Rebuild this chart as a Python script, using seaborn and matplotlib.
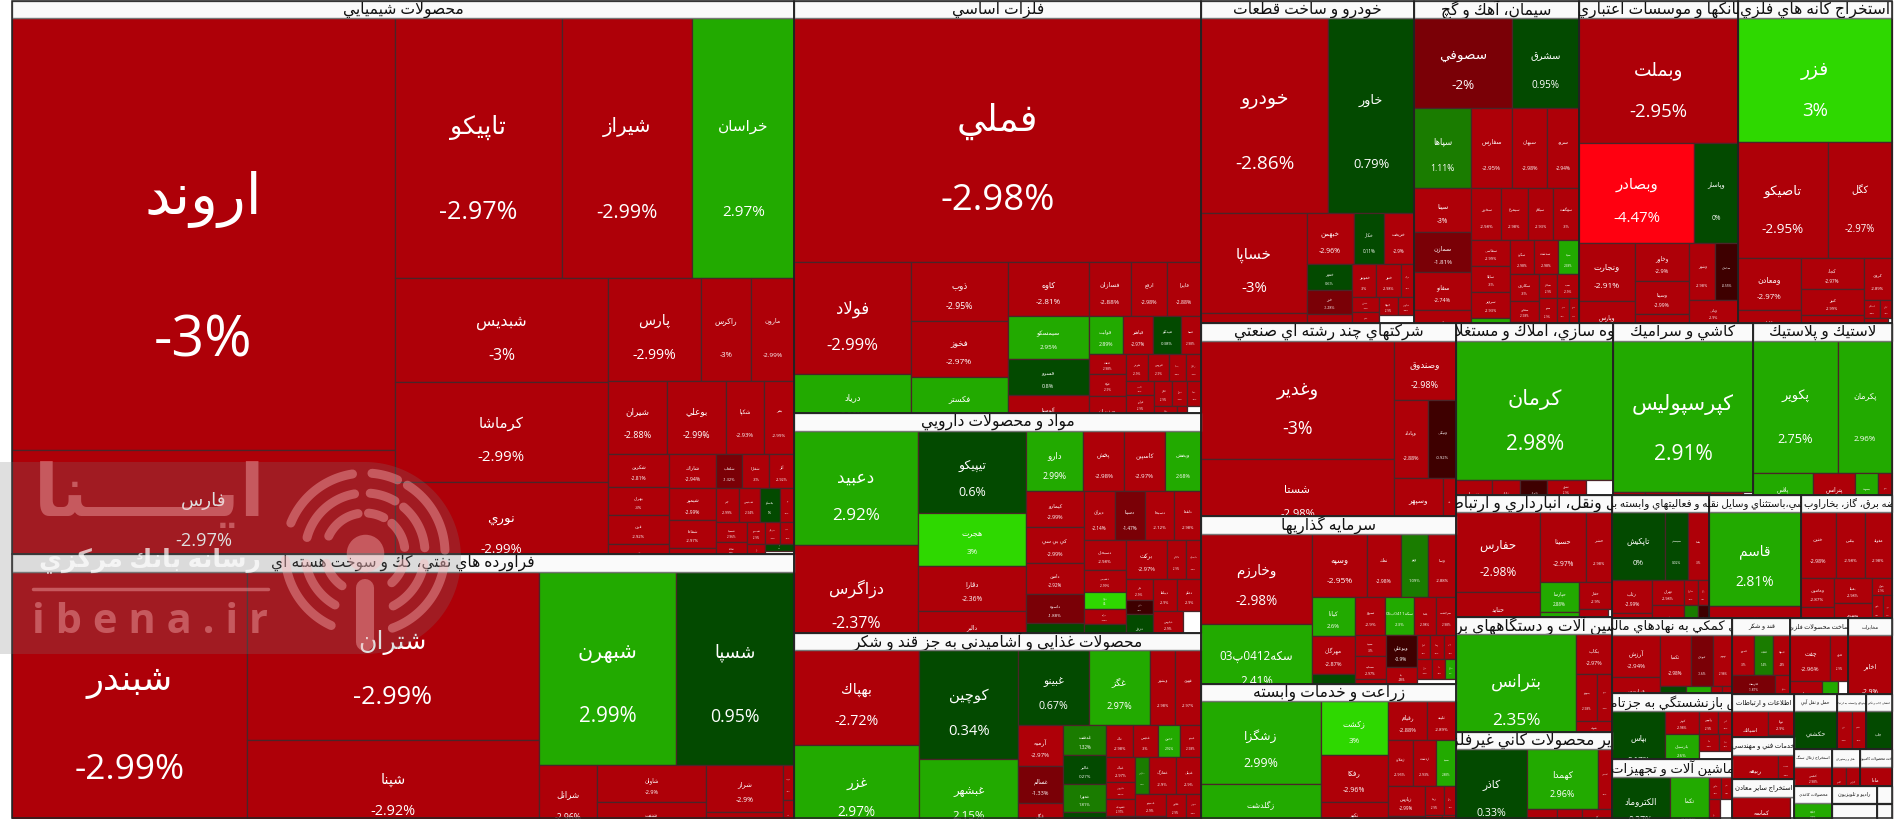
import re
import unicodedata

import numpy as np
import matplotlib
matplotlib.use("Agg")
import matplotlib.pyplot as plt
import seaborn as sns

# sector tiles: names, percent change, size (market value, arbitrary units)
chem_names = ["اروند", "فارس", "تاپيكو", "شيراز", "خراسان", "شبديس", "كرماشا", "نوري", "پارس", "راكرس", "مارون", "شيران", "بوعلي", "شكپا", "بمر", "شكربن", "بهران", "قرن", "آپ", "شاراك", "شيمپر", "شفاها", "تند", "شلعاب", "شفارا", "آلر", "جم", "شپديس", "پلاسكو", "مر", "شسينا", "شاملا", "شگل", "شبصير", "شرنگي", "سپ", "نار", "پتا", "ني", ""]
chem_pct = [-3, -2.97, -2.97, -2.99, 2.97, -3, -2.99, -2.99, -2.99, -3, -2.99, -2.88, -2.99, -2.93, -2.99, -2.81, -3, -2.92, -2.9, -2.94, -2.99, -2.97, -2.9, -1.32, -3, -2.92, -2.99, -2.94, 0, -2.9, -2.96, -2.9, -2.9, -2.9, -2.9, -2.9, -2.9, -2.9, 0.5, None]
chem_size = [164.6, 46.6, 43.1, 33.8, 26.3, 22.3, 21.2, 19.0, 9.6, 5.2, 4.4, 4.3, 4.25, 2.8, 2.16, 2.0, 1.75, 1.75, 1.68, 1.6, 1.5, 1.3, 1.08, .92, .92, .86, .77, .7, .67, .48, .62, .52, .4, .4, .32, .3, .26, .26, .2, .6]

petro_names = ["شبندر", "شتران", "شپنا", "شبهرن", "شسپا", "شرانل", "شاوان", "شنفت", "شراز", "شپاس", "شوينده", "نفت"]
petro_pct = [-2.99, -2.99, -2.92, 2.99, 0.95, -2.96, -2.9, -2.88, -2.9, -2.98, -2.9, -2.9]
petro_size = [61.8, 49.0, 27.9, 26.5, 22.7, 4.07, 4.0, 3.67, 3.6, 1.8, .4, .4]

metal_names = ["فملي", "فولاد", "درياد", "ذوب", "فخوز", "فكستر", "كاوه", "سيمسكو", "فسرو", "آلومينا", "فسازان", "ارفع", "فايرا", "فولبت", "فباهنر", "ميدكو", "فسبا", "فنفت", "فوكا", "ورزيران", "هرمز", "فروس", "بمپنا", "زنگان", "كاسپ", "فرآور", "فلوله", "فجر", "فجام", "فسپا", "فنوال", "ميرال", "سرو", ""]
metal_pct = [-2.98, -2.99, 2.96, -2.95, -2.97, 2.91, -2.81, 2.95, 0.8, -2.9, -2.88, -2.98, -2.88, 2.89, -2.97, 0.38, -2.98, -2.98, -2.9, -2.9, -2.9, -2.9, -2.9, -2.9, -2.9, -2.9, -2.9, -2.9, -2.9, -2.9, -2.9, -2.9, -2.9, None]
metal_size = [98.9, 12.9, 6.6, 5.66, 5.4, 5.2, 4.3, 3.44, 2.96, 2.84, 2.25, 1.9, 1.8, 1.3, 1.15, 1.07, .78, .76, .79, 1.3, .6, .57, .45, .42, .39, .5, .48, .45, .36, .34, .3, .28, .24, .35]

drug_names = ["دعبيد", "دزاگرس", "تيپيكو", "هجرت", "دقارا", "دالبر", "دارو", "پخش", "كاسپين", "وپخش", "كيمارو", "كي بي سي", "دامين", "داسوه", "دتماد", "ديران", "دسينا", "دسبحا", "دلقما", "دسبحان", "دشيمي", "دفرا", "دتوليد", "دفارا", "بركت", "دجابر", "دكپسول", "دلر", "دكوثر", "دروز", "ديپلما", "دعلم", "دپارس", "دتهران", ""]
drug_pct = [2.92, -2.37, 0.6, 3, -2.36, -2.9, 2.99, -2.98, -2.97, 2.68, -2.99, -2.99, -2.92, -1.88, 0.5, -2.14, -1.47, -2.12, -2.98, -2.98, -2.99, 3, -2.99, 0.79, -2.97, -2.9, -2.9, -2.9, -0.5, 0.4, -2.9, -2.9, -2.9, -2.9, None]
drug_size = [14.25, 13.2, 8.94, 5.78, 4.9, 4.3, 3.5, 2.5, 2.5, 2.2, 2.07, 2.1, 1.77, 1.7, 1.6, 1.53, 1.53, 1.43, 1.33, 1.24, .93, .71, .65, 1.12, 1.6, .7, .6, .6, .37, 1.0, .8, .8, .7, .5, .7]

food_names = ["بهپاك", "غزر", "كوچين", "غبشهر", "غبينو", "غگز", "وبشهر", "قهوي", "آرميه", "غسالم", "غگل", "غدشت", "غالبر", "غمهرا", "غشان", "تاك", "غديس", "خاتون", "غپينو", "غپاك", "غكورش", "غشهداب", "غدام", "غفارس", "غمارگ", "غنيلي", "غصينو", "غسهر", "غچين", "غنوش", ""]
food_pct = [-2.72, 2.97, 0.34, 2.15, 0.67, 2.97, -2.98, -2.97, -2.97, -1.33, -2.9, 1.32, 0.27, 1.81, 0.5, -2.98, -3, 2.92, -2.98, -2.97, -2.97, -2.97, -2.97, 1.5, -2.9, -2.9, -2.9, -2.9, -2.9, -2.9, None]
food_size = [11.75, 11.3, 10.6, 7.5, 5.25, 4.5, 1.9, 1.9, 1.85, 1.67, 1.46, 1.29, 1.25, 1.2, 1.0, .86, .8, .74, .67, .7, .47, .5, .55, .5, 1.0, .9, .7, .6, .5, .4, .55]

auto_names = ["خودرو", "خاور", "خساپا", "خزاميا", "خبهمن", "خكار", "خريخت", "خمهر", "خزر", "خلنت", "خموتور", "ختور", "خرينگ", "خشرق", "خفنر", "خاذين", "ختوقا", "خپارس", ""]
auto_pct = [-2.86, 0.79, -3, -2.9, -2.96, 0.11, -2.9, 0.6, -1.28, -2.9, -3, -2.98, -2.9, -2.9, -2.9, -2.9, -2.9, -2.9, None]
auto_size = [24.8, 16.8, 10.6, 2.9, 2.4, 1.55, 1.55, 1.2, 1.1, 1.2, .8, .8, .45, .4, .4, .35, .35, .3, .9]

cement_names = ["سصوفي", "سشرق", "سپاها", "سفارس", "سبهان", "سرود", "سينا", "سمازن", "سفانو", "سارود", "سخزر", "سيمرغ", "سيلام", "سهگمت", "سفاسي", "سايلا", "سرويز", "سغرب", "سكرد", "سدشت", "سيتا", "سكارون", "سقاين", "ساروم", "سباقر", "سپ", "سنير", "سدور", "سنوين", ""]
cement_pct = [-2, 0.95, 1.11, -2.95, -2.98, -2.94, -3, -1.81, -2.74, -2.9, -2.98, -2.98, -2.93, -3, -2.99, -3, -2.93, 2.5, -2.98, -2.98, 2.68, -3, -2.98, 2.9, -2.9, -2.9, -2.9, -2.9, -2.9, None]
cement_size = [8.7, 5.96, 4.5, 3.24, 2.8, 2.5, 2.46, 2.3, 2.1, 1.76, 1.5, 1.35, 1.3, 1.3, 1.0, 1.0, 1.0, .87, .82, .82, .73, .74, .6, .54, .42, .5, .45, .3, .26, .7]

bank_names = ["وبملت", "وبصادر", "وپاسار", "ونجارت", "وپارس", "وخاور", "وسينا", "وپست", "وشهر", "سامان", "وباني", "وكار"]
bank_pct = [-2.95, -4.47, 0, -2.91, -2.98, -2.9, -2.99, -2.93, -2.98, -0.55, -2.9, -2.9]
bank_size = [19.7, 11.4, 4.36, 3.2, 2.2, 2.06, 1.8, 1.46, 1.46, 1.3, 1.16, .8]

mine_names = ["فزر", "تاصيكو", "كگل", "ومعادن", "كاما", "كچاد", "كنور", "كگهر", "كروي", "كمنگنز", "كبافق", "كپارس", "كخاك", ""]
mine_pct = [3, -2.95, -2.97, -2.97, -2.9, -2.97, -2.99, -2.9, -2.89, -2.9, -2.9, -2.9, -2.9, None]
mine_size = [19.1, 10.4, 7.4, 3.3, 1.9, 1.95, 1.64, 1.6, 1.18, .3, .22, .3, .25, .1]

multi_names = ["وغدير", "شستا", "وصندوق", "وپاداد", "ونيكي", "وسپهر", "بانك"]
multi_pct = [-3, -2.98, -2.98, -2.88, -0.92, -2.99, -2.9]
multi_size = [22.7, 14.3, 3.7, 2.7, 2.16, 2.75, .72]

invest_names = ["وخارزم", "سكه0412پ03", "وسپه", "نمك", "ونو", "وسا", "كيانا", "مهرگان", "ايند", "سرو", "سكه0411پ05", "پاشا", "سرچشمه", "سپيد", "سمايه", "وثوق", "وبوعلي", "پايا", "سبزوا", "ثامان", "وصنا", "ويژن", "سان", "ستا", "مداران", ""]
invest_pct = [-2.98, 2.41, -2.95, -2.98, 1.09, -2.88, 2.6, -2.87, 0.71, -2.9, 2.3, -2.98, -2.98, -3, -2.97, -2.98, -0.9, -2.98, -2.9, -2.9, -2.9, -2.9, -2.9, -2.9, 2.5, None]
invest_size = [9.6, 8.3, 3.4, 2.04, 1.68, 1.74, 1.63, 1.58, 1.17, 1.08, 1.05, .8, .73, .63, .67, .64, 1.0, .52, .52, .3, .33, .3, .28, .24, .2, .86]

agri_names = ["زشگزا", "زگلدشت", "زكشت", "رفكا", "نكهر", "رقيام", "ثليبه", "زملارد", "زدشت", "سپيد", "زپارس", "زفكا", "زبينا", "زقيام", "زشريف", "دامين"]
agri_pct = [2.99, 2.96, 3, -2.96, -2.9, -2.88, -2.89, -2.95, -2.93, 2.88, -2.99, -2.9, -2.9, -2.9, -2.9, -2.9]
agri_size = [9.76, 6.1, 3.55, 3.15, 2.2, 1.5, 1.1, 1.15, 1.1, .92, 1.1, .7, .55, .35, .35, .3]

build_names = ["كرمان", "ثنوسا", "ثاباد", "ثامان", "ثشرق", "ثغرب", ""]
build_pct = [2.98, -2.9, -2.9, -0.5, -2.9, -2.9, None]
build_size = [21.4, 1.14, .91, .88, .65, .58, .88]

ceram_names = ["كپرسپوليس", "كسرا", "كسعدي", "كمرجان", "كلوند", ""]
ceram_pct = [2.91, -2.9, -2.9, -2.9, -2.9, None]
ceram_size = [21.0, .65, .65, .65, .65, .2]

plast_names = ["پكوير", "پكرمان", "پلاس", "پترانس", "پسهند", "پدرو"]
plast_pct = [2.75, 2.96, 2.9, -2.98, 2.88, -2.9]
plast_size = [11.3, 7.1, 2.4, 1.66, .9, .55]

trans_names = ["حفارس", "حتايد", "حسينا", "حشير", "حپارسا", "حآسا", "حفار", "حتوكا", ""]
trans_pct = [-2.98, -2.9, -2.97, -2.98, 2.88, 2.5, -2.9, -2.9, None]
trans_size = [6.7, 3.57, 3.2, 1.8, 1.17, .88, .9, .75, .1]

elec_names = ["بترانس", "بكاب", "بموتو", "بنيرو", "بشهاب", "بالاس"]
elec_pct = [2.35, -2.97, -2.98, -2.9, -2.9, -2.9]
elec_size = [13.7, 1.4, .97, .7, .6, .43]

glass_names = ["كاذر", "كهمدا", "كسعدي", "كفرا", "كساوه", "كلر", "كرازي"]
glass_pct = [0.33, 2.96, -2.9, -2.9, -2.9, -2.9, -2.9]
glass_size = [6.0, 4.2, .83, .78, .65, .5, .26]

comp_names = ["تاپكيش", "سيستم", "پاسا", "رتاپ", "مفاخر", "تهران", "فن", "مداران", "رايان", "افق", "خريد"]
comp_pct = [0, 0.02, -3, -2.99, -2.9, -2.98, -2.98, -2.9, -2.9, 1.5, -0.4]
comp_size = [3.6, 1.56, 1.43, 1.3, .9, .8, .95, .35, .27, .42, .33]

retail_names = ["قاسم", "اتكي"]
retail_pct = [2.81, -2.9]
retail_size = [8.6, 2.7]

power_names = ["خنين", "بپاس", "مغولد", "وهامون", "سهمو", "بمپنا", "بجهرم", "بتوان", "بكهنوج", "بخاور", ""]
power_pct = [-2.98, -2.98, -2.98, -2.87, -2.9, -2.98, -2.98, -2.9, -2.9, -2.9, None]
power_size = [2.24, 1.86, 1.73, .96, .9, .92, 1.2, .35, .3, .25, .25]

fin_names = ["آرزش", "فرابورس", "تكمبا", "لبوتان", "نهويي", "تاليما", "نوين", "ساتا", "سامه"]
fin_pct = [-2.94, -2.9, -2.98, -1.6, -2.98, 0.4, 2.9, -2.9, -2.9]
fin_size = [1.93, 1.6, 1.55, 1.15, .95, .62, .62, .25, .25]

ins_names = ["بپاس", "كوثر", "پارسيان", "ملت", "وآتوس", "البرز", "دانا", "آسيا", ""]
ins_pct = [0.17, -2.98, 2.6, -2.9, -2.9, -2.9, -2.9, -2.9, None]
ins_size = [3.2, .7, .9, .42, .42, .31, .3, .2, .8]

mach_names = ["الكتروماد", "تكما", "تفارس", "تپمپي", "تايرا", ""]
mach_pct = [0.27, 2.97, -2.9, -2.9, -2.9, None]
mach_size = [3.4, 2.3, .28, .25, .4, .45]

sugar_names = ["قمرو", "قثابت", "قصفها", "قلرست", "قنيشا", "شكر"]
sugar_pct = [-3, 1.4, -2.9, -1.81, 1.2, -2.9]
sugar_size = [.86, .74, .66, .9, .65, .55]

steel_names = ["چفت", "فلزي", "فنوا", "شفن", ""]
steel_pct = [-2.96, -2.9, -2.9, 2.7, None]
steel_size = [1.8, .81, .96, .48, .3]

tel_names = ["اخابر"]
tel_pct = [-2.9]
tel_size = [2.55]

info_names = ["اسياتك", "نوتا", "تكنيك"]
info_pct = [-2.9, -2.9, -2.9]
info_size = [.9, .38, .3]

eng_names = ["ربيعه", "خدمت", ""]
eng_pct = [-2.98, -2.9, None]
eng_size = [1.28, .3, .15]

misc_names = ["كماسه", ""]
misc_pct = [-2.9, None]
misc_size = [2.0, .15]

water_names = ["حكشتي"]
water_pct = [0.5]
water_size = [1.6]

post_names = ["ثقين", "ثقشم", "پست", ""]
post_pct = [-2.9, -2.9, -2.9, None]
post_size = [.43, .41, .2, .15]

press_names = ["چاپ"]
press_pct = [0.6]
press_size = [.99]

coal_names = ["كطبس", "كزغال"]
coal_pct = [-2.98, -2.9]
coal_size = [.55, .45]

paper_names = ["چكاپا", "چفيبر"]
paper_pct = [2.9, 2.8]
paper_size = [.55, .35]

hotel_names = ["گلدير", "گپارس"]
hotel_pct = [-2.9, -2.9]
hotel_size = [.25, .25]

pc_names = ["مادا", ""]
pc_pct = [-2.9, None]
pc_size = [.6, .05]

dev_names = ["بهير", "بسوي"]
dev_pct = [2.9, -2.9]
dev_size = [.22, .17]

empty_names = [""]
empty_pct = [None]
empty_size = [1]

sector_titles = [
    "محصولات شيميايي", "فراورده هاي نفتي، كك و سوخت هسته اي", "فلزات اساسي",
    "مواد و محصولات دارويي", "محصولات غذايي و آشاميدني به جز قند و شكر", "خودرو و ساخت قطعات",
    "سيمان، آهك و گچ", "بانكها و موسسات اعتباري", "استخراج كانه هاي فلزي",
    "شركتهاي چند رشته اي صنعتي", "سرمايه گذاريها", "زراعت و خدمات وابسته",
    "انبوه سازي، املاك و مستغلات", "كاشي و سراميك", "لاستيك و پلاستيك",
    "حمل ونقل، انبارداري و ارتباطات", "ماشين آلات و دستگاههاي برقي", "ساير محصولات كاني غيرفلزي",
    "رايانه و فعاليتهاي وابسته به آن", "خرده فروشي،باستثناي وسايل نقليه موتوري", "عرضه برق، گاز، بخاراوب گرم",
    "فعاليتهاي كمكي به نهادهاي مالي واسط", "بيمه وصندوق بازنشستگي به جزتامين اجتماعي", "ماشين آلات و تجهيزات",
    "قند و شكر", "ساخت محصولات فلزي", "مخابرات",
    "اطلاعات و ارتباطات", "خدمات فني و مهندسي", "استخراج ساير معادن",
    "حمل و نقل آبي", "فعاليتهاي وابسته به ارتباطات", "انتشار، چاپ و تكثير",
    "استخراج زغال سنگ", "محصولات كاغذي", "هتل و رستوران",
    "ساخت محصولات كامپيوتري", "راديو و تلويزيون", "", "", "",
]
sector_sizes = [
    432.4, 206.4, 167.7, 89.5, 75.3, 68.6, 53.1, 51.2, 49.6, 49.2, 42.8, 34.2,
    26.9, 24.0, 23.9, 19.0, 17.9, 13.4, 11.9, 11.3, 11.2, 9.1, 7.9, 7.1,
    4.4, 4.4, 3.3, 2.7, 2.6, 2.4, 2.35, 1.62, 1.46, 1.37, 1.22, 1.0,
    1.18, .83, .64, .28, .2,
]
sector_names = [chem_names, petro_names, metal_names, drug_names, food_names, auto_names, cement_names, bank_names, mine_names, multi_names, invest_names, agri_names, build_names, ceram_names, plast_names, trans_names, elec_names, glass_names, comp_names, retail_names, power_names, fin_names, ins_names, mach_names, sugar_names, steel_names, tel_names, info_names, eng_names, misc_names, water_names, post_names, press_names, coal_names, paper_names, hotel_names, pc_names, dev_names, empty_names, empty_names, empty_names]
sector_pcts = [chem_pct, petro_pct, metal_pct, drug_pct, food_pct, auto_pct, cement_pct, bank_pct, mine_pct, multi_pct, invest_pct, agri_pct, build_pct, ceram_pct, plast_pct, trans_pct, elec_pct, glass_pct, comp_pct, retail_pct, power_pct, fin_pct, ins_pct, mach_pct, sugar_pct, steel_pct, tel_pct, info_pct, eng_pct, misc_pct, water_pct, post_pct, press_pct, coal_pct, paper_pct, hotel_pct, pc_pct, dev_pct, empty_pct, empty_pct, empty_pct]
sector_tiles = [chem_size, petro_size, metal_size, drug_size, food_size, auto_size, cement_size, bank_size, mine_size, multi_size, invest_size, agri_size, build_size, ceram_size, plast_size, trans_size, elec_size, glass_size, comp_size, retail_size, power_size, fin_size, ins_size, mach_size, sugar_size, steel_size, tel_size, info_size, eng_size, misc_size, water_size, post_size, press_size, coal_size, paper_size, hotel_size, pc_size, dev_size, empty_size, empty_size, empty_size]

# percent bin edges and their colours
pct_edges = [-4, -2.05, -1, 0, 1, 2, 3]
pct_colors = sns.color_palette(["#ff0010", "#ae0008", "#7a0006", "#3e0000", "#034a00", "#1a7c00", "#22aa00", "#2ed800"])

RIGHT_JOIN = set("اآأإدذرزژوؤة")
KASHIDA = "ـ"


def is_letter(ch):
    return "\u0621" < ch <= "\u06d2"


def form_of(ch, form):
    if ch == KASHIDA:
        return ch
    return unicodedata.lookup(unicodedata.name(ch) + " " + form + " FORM")


def rtl(text):
    # matplotlib has no arabic shaping, so pick the joined glyphs by hand
    text = text.replace("لا", "\ufefb").replace("لآ", "\ufef5")
    out = []
    for i, ch in enumerate(text):
        prev_ch = text[i - 1] if i else " "
        next_ch = text[i + 1] if i + 1 < len(text) else " "
        joins_prev = is_letter(prev_ch) and prev_ch not in RIGHT_JOIN
        joins_next = is_letter(next_ch) or next_ch in "\ufefb\ufef5"
        if ch in "\ufefb\ufef5":
            out.append(chr(ord(ch) + 1) if joins_prev else ch)
        elif not is_letter(ch):
            out.append(ch)
        elif ch in RIGHT_JOIN:
            out.append(form_of(ch, "FINAL" if joins_prev else "ISOLATED"))
        elif joins_prev and joins_next:
            out.append(form_of(ch, "MEDIAL"))
        elif joins_prev:
            out.append(form_of(ch, "FINAL"))
        elif joins_next:
            out.append(form_of(ch, "INITIAL"))
        else:
            out.append(form_of(ch, "ISOLATED"))
    tokens = re.findall(r"[0-9A-Za-z.%]+|.", "".join(out))
    return "".join(reversed(tokens))


def squarify(values, x0, y0, x1, y1, ratio=1.618):
    # same greedy rows as d3.treemapSquarify
    rects = []
    left = float(sum(values))
    i = 0
    n = len(values)
    while i < n:
        dx, dy = x1 - x0, y1 - y0
        total = values[i]
        lo = hi = values[i]
        alpha = max(dy / dx, dx / dy) / (left * ratio)
        beta = total * total * alpha
        best = max(hi / beta, beta / lo)
        j = i + 1
        while j < n:
            v = values[j]
            total2 = total + v
            lo2, hi2 = min(lo, v), max(hi, v)
            beta = total2 * total2 * alpha
            r = max(hi2 / beta, beta / lo2)
            if r > best:
                break
            total, lo, hi, best = total2, lo2, hi2, r
            j += 1
        if dx < dy:
            y_end = y0 + dy * total / left
            x = x0
            for v in values[i:j]:
                rects.append((x, y0, dx * v / total, y_end - y0))
                x += dx * v / total
            y0 = y_end
        else:
            x_end = x0 + dx * total / left
            y = y0
            for v in values[i:j]:
                rects.append((x0, y, x_end - x0, dy * v / total))
                y += dy * v / total
            x0 = x_end
        left -= total
        i = j
    return rects


def tile_color(p):
    if p is None:
        return "#ffffff"
    return pct_colors[int(np.searchsorted(pct_edges, p, side="right"))]


sns.set_theme(style="white")
plt.rcParams["font.family"] = ["Open Sans", "DejaVu Sans"]

fig = plt.figure(figsize=(19.04, 8.22), dpi=100)
ax = fig.add_axes([0, 0, 1, 1])
ax.set_xlim(0, 1904)
ax.set_ylim(822, 0)
ax.set_axis_off()

HEADER = 17.5
PX = 72 / 100

sectors = squarify(sector_sizes, 12, 1, 1892, 818)
for s, (sx, sy, sw, sh) in enumerate(sectors):
    names, pcts, sizes = sector_names[s], sector_pcts[s], sector_tiles[s]
    # the tiles keep the full sector height and slide under the next header
    tiles = squarify(sizes, sx, sy + HEADER, sx + sw, sy + HEADER + sh)
    bars = ax.bar([t[0] for t in tiles], [t[3] for t in tiles], [t[2] for t in tiles],
                  bottom=[t[1] for t in tiles], align="edge",
                  color=[tile_color(p) for p in pcts], edgecolor="#4a2528", linewidth=0.9, zorder=2)
    for (x, y, w, h), bar, name, p in zip(tiles, bars, names, pcts):
        if p is None:
            continue
        f = 0.15 * min(w, h)
        cx = x + w / 2
        for label, ty in [(rtl(name), y + 0.42 * h), (f"{p:g}%", y + 0.75 * h)]:
            t = ax.text(cx, ty, label, color="white", fontsize=f * PX, ha="center", va="center",
                        zorder=3, clip_on=True)
            t.set_clip_path(bar)
    head = ax.bar(sx, HEADER, sw, bottom=sy, align="edge", color="#fafafa", edgecolor="#777777", linewidth=1, zorder=4)
    ax.bar(sx, sh, sw, bottom=sy, align="edge", fill=False, edgecolor="#222222", linewidth=1.1, zorder=5)
    title = ax.text(sx + sw / 2, sy + HEADER / 2, rtl(sector_titles[s]), color="#111111",
                    fontsize=min(15.5, sw * 0.11) * PX, ha="center", va="center", zorder=6, clip_on=True)
    title.set_clip_path(head[0])

# margin below the chart hides the overflowing last row
ax.axhspan(818.5, 822, color="white", lw=0, zorder=6)

# watermark
WM_GRAY = "#777777"
WM_LIGHT = "#ffb7ba"
theta = np.linspace(-np.pi / 2, np.pi / 2, 80)
ax.fill(np.r_[0, 365 + 96 * np.cos(theta), 0], np.r_[654, 558 - 96 * np.sin(theta), 462],
        color=WM_GRAY, alpha=0.235, lw=0, zorder=7)
ring_arcs = [
    (80, [(99, 158), (66, 85), (2, 58), (-70, -8), (185, 245)]),
    (60, [(100, 165), (60, 85), (5, 50), (-62, -10), (190, 240)]),
    (40, [(100, 155), (62, 85), (8, 48), (-48, -15), (195, 235)]),
]
for r, arcs in ring_arcs:
    for a0, a1 in arcs:
        a = np.radians(np.linspace(a0, a1, 30))
        ax.plot(365 + r * np.cos(a), 553 - r * np.sin(a), color=WM_LIGHT, alpha=0.4,
                lw=6.5, solid_capstyle="round", zorder=8)
ax.plot([365], [553], "o", ms=27, color=WM_LIGHT, alpha=0.4, mew=0, zorder=8)
ax.plot([365, 365], [588, 642], color=WM_LIGHT, alpha=0.4, lw=13, solid_capstyle="round", zorder=8)
ax.plot([33, 268], [589, 589], color=WM_LIGHT, alpha=0.4, lw=2.5, zorder=8)
ax.text(150, 497, rtl("ايـــــنا"), color=WM_LIGHT, alpha=0.4, fontsize=52, fontweight="bold",
        ha="center", va="center", zorder=8)
ax.text(150, 560, rtl("رسانه بانك مركزي"), color="white", alpha=0.7, fontsize=18, fontweight="bold",
        ha="center", va="center", zorder=8)
ax.text(150, 622, "i b e n a . i r", color=WM_LIGHT, alpha=0.4, fontsize=30, fontweight="bold",
        ha="center", va="center", zorder=8)

sns.despine(ax=ax, left=True, bottom=True)
fig.savefig("out.png", dpi=100)
